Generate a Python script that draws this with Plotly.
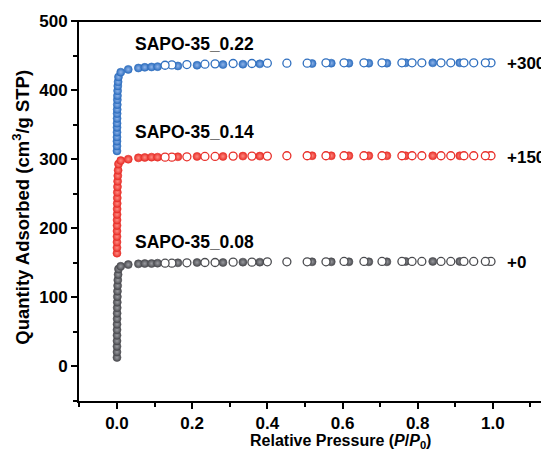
import plotly.graph_objects as go

# ---- data ----
samples = ["SAPO-35_0.08", "SAPO-35_0.14", "SAPO-35_0.22"]
offsets = [0, 150, 300]
offset_labels = ["+0", "+150", "+300"]
colors = ["#4b4c50", "#e8302a", "#2f6fbf"]
highlights = ["#9a9ba0", "#ff8a80", "#8fb4ea"]

# adsorption relative pressures (filled symbols)
ads_p = [0.00001, 0.00002, 0.00004, 0.00007, 0.0001, 0.00015, 0.0002, 0.0003,
         0.0004, 0.0006, 0.0008, 0.001, 0.0013, 0.0017, 0.0022, 0.003, 0.004,
         0.01, 0.03, 0.057, 0.074, 0.092, 0.108, 0.162, 0.213, 0.282, 0.335,
         0.38, 0.519, 0.57, 0.617, 0.67, 0.718, 0.768, 0.84, 0.912, 0.99]
# desorption relative pressures (open symbols)
des_p = [0.995, 0.98, 0.949, 0.923, 0.888, 0.862, 0.811, 0.785, 0.758, 0.705,
         0.657, 0.604, 0.556, 0.506, 0.452, 0.40, 0.359, 0.309, 0.261, 0.234,
         0.186, 0.146, 0.128]

# quantity adsorbed (cm3/g STP), without the vertical offset
ads_008 = [13, 21, 29, 37, 45, 53, 61, 69, 77, 85, 93, 101, 109, 117, 125, 133, 141,
           145, 147.5, 148.5, 149, 149, 149.5, 150, 150.5, 150.5, 151, 151, 151.5,
           151.5, 151.5, 151.5, 151.5, 152, 152, 152, 152]
des_008 = [152, 152, 152, 152, 152, 152, 152, 152, 152, 152, 152, 152, 151.5, 151.5,
           151.5, 151.5, 151, 151, 150.5, 150.5, 150, 149.5, 149.5]

ads_014 = [14, 22, 30, 38, 46, 54, 62, 70, 78, 86, 94, 102, 110, 118, 126, 134, 143,
           148, 150, 152, 152.5, 153, 153, 153.5, 154, 154, 154.5, 154.5, 155,
           155, 155, 155, 155, 155, 155, 155, 155]
des_014 = [155, 155, 155, 155, 155, 155, 155, 155, 155, 155, 155, 155, 155, 155,
           155, 154.5, 154.5, 154.5, 154, 154, 153.5, 153, 153]

ads_022 = [12, 19, 26, 32, 39, 46, 52, 59, 66, 72, 79, 86, 92, 99, 106, 112, 119,
           126, 130, 132, 133, 133.5, 134, 135, 136, 137, 137.5, 138, 138.5,
           139, 139, 139, 139, 139.5, 139.5, 139.5, 139.5]
des_022 = [139.5, 139.5, 139.5, 139.5, 139.5, 139.5, 139.5, 139.5, 139.5, 139.5,
           139.5, 139.5, 139.5, 139, 139, 139, 138.5, 138.5, 138, 137.5, 137, 136.5, 136]

ads_all = [ads_008, ads_014, ads_022]
des_all = [des_008, des_014, des_022]

x_ticks = [0.0, 0.2, 0.4, 0.6, 0.8, 1.0]
x_ticklabels = ["0.0", "0.2", "0.4", "0.6", "0.8", "1.0"]
y_ticks = [0, 100, 200, 300, 400, 500]
x_range = [-0.101, 1.128]
y_range = [-50, 501.5]

FONT = "Liberation Sans, Arial, Helvetica, sans-serif"

fig = go.Figure()

for name, off, col, hl, ads, des in zip(samples, offsets, colors, highlights,
                                        ads_all, des_all):
    fig.add_trace(go.Scatter(
        x=ads_p, y=[v + off for v in ads], mode="markers", name=name + " ads",
        marker=dict(size=8, color=col, line=dict(color=col, width=0.6),
                    gradient=dict(type="radial", color=hl)),
        showlegend=False, cliponaxis=False))
    fig.add_trace(go.Scatter(
        x=des_p, y=[v + off for v in des], mode="markers", name=name + " des",
        marker=dict(size=8, color="white", line=dict(color=col, width=1.3)),
        showlegend=False, cliponaxis=False))

label_y = [180, 339, 467]
for name, ly in zip(samples, label_y):
    fig.add_annotation(x=0.043, y=ly, text=name, showarrow=False, xanchor="left",
                       yanchor="middle", font=dict(family=FONT, size=17.5, color="black",
                                                   weight="bold"))
plateau_y = [151, 303, 439]
for lab, py in zip(offset_labels, plateau_y):
    fig.add_annotation(x=1.032, y=py, text=lab, showarrow=False, xanchor="left",
                       yanchor="middle", font=dict(family=FONT, size=17, color="black",
                                                   weight="bold"))

# axis titles (x title centred on the full, uncropped plot width of the original)
fig.add_annotation(xref="paper", yref="paper", x=0.565, y=-0.107,
                   text="Relative Pressure (<i>P</i>/<i>P</i><sub>0</sub>)",
                   showarrow=False, xanchor="center", yanchor="middle",
                   font=dict(family=FONT, size=16, color="black", weight="bold"))
fig.add_annotation(xref="paper", yref="paper", x=-0.125, y=0.508, textangle=-90,
                   text="Quantity Adsorbed (cm<sup>3</sup>/g STP)",
                   showarrow=False, xanchor="center", yanchor="middle",
                   font=dict(family=FONT, size=18.5, color="black", weight="bold"))

# top frame line of the plot box, at the 500 level, drawn above the data
fig.add_shape(type="rect", xref="paper", yref="y", x0=0, x1=1, y0=498.5, y1=501.5,
              fillcolor="black", line=dict(width=0), layer="above")

fig.update_layout(
    width=541, height=451,
    margin=dict(l=79, r=0, t=20, b=50),
    plot_bgcolor="white", paper_bgcolor="white",
    font=dict(family=FONT, size=15, color="black"),
    xaxis=dict(range=x_range, tickvals=x_ticks, ticktext=x_ticklabels,
               showgrid=False, zeroline=False, showline=True,
               linecolor="black", linewidth=2, ticks="outside", ticklen=6,
               tickwidth=2, tickcolor="black",
               tickfont=dict(family=FONT, size=17, weight="bold"),
               minor=dict(dtick=0.1, tick0=0, ticks="outside", ticklen=4, tickwidth=2,
                          tickcolor="black", showgrid=False)),
    yaxis=dict(range=y_range, tickvals=y_ticks, showgrid=False, zeroline=False,
               showline=True, linecolor="black", linewidth=2, ticks="outside",
               ticklen=6, tickwidth=2, tickcolor="black",
               tickfont=dict(family=FONT, size=17, weight="bold"),
               minor=dict(dtick=50, tick0=0, ticks="outside", ticklen=4, tickwidth=2,
                          tickcolor="black", showgrid=False)),
)

fig.write_html("out.html", config={"displayModeBar": False},
               post_script="document.body.style.margin='0';document.body.style.overflow='hidden';")
